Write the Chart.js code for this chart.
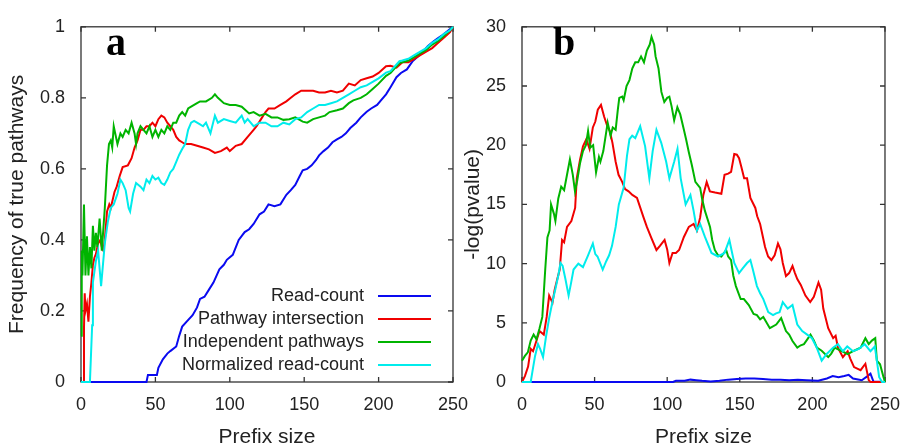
<!DOCTYPE html>
<html>
<head>
<meta charset="utf-8">
<title>Prefix size</title>
<script src="https://cdn.jsdelivr.net/npm/chart.js@4.4.1/dist/chart.umd.min.js"></script>
<style>
  html, body { margin: 0; padding: 0; background: #fff; }
  #wrap { position: relative; width: 912px; height: 446px; overflow: hidden; }
  #chartA { position: absolute; left: 0; top: 0; }
  #chartB { position: absolute; left: 456px; top: 0; }
</style>
</head>
<body>
<div id="wrap">
  <canvas id="chartA" width="490" height="446"></canvas>
  <canvas id="chartB" width="456" height="446"></canvas>
</div>
<script>
// Series names (legend order)
const seriesLabels = ['Read-count', 'Pathway intersection', 'Independent pathways', 'Normalized read-count'];

// Panel a: frequency of true pathways, [prefix size, value]
const readCountA = [[0,0],[44,0],[45,0.02],[51,0.02],[52,0.04],[55,0.064],[58,0.08],[60,0.087],[64,0.10],[66,0.13],[68,0.156],[71,0.17],[75,0.188],[78,0.21],[80,0.234],[83,0.24],[86,0.26],[89,0.28],[93,0.317],[96,0.33],[98,0.344],[102,0.358],[106,0.40],[110,0.422],[113,0.43],[116,0.445],[120,0.472],[123,0.48],[126,0.50],[130,0.495],[134,0.50],[138,0.527],[141,0.54],[144,0.555],[147,0.58],[149,0.596],[152,0.60],[155,0.61],[158,0.625],[160,0.638],[163,0.65],[166,0.66],[169,0.675],[172,0.683],[175,0.69],[178,0.70],[181,0.715],[185,0.73],[188,0.745],[192,0.761],[195,0.77],[199,0.78],[202,0.795],[205,0.81],[208,0.83],[212,0.858],[215,0.87],[219,0.88],[223,0.904],[226,0.915],[230,0.931],[233,0.945],[237,0.959],[240,0.968],[243,0.977],[247,0.99],[250,1.0]];
const pathwayA = [[1.5,0],[2,0.15],[2.5,0.25],[3,0.2],[4,0.22],[5,0.17],[6,0.24],[7,0.28],[8,0.33],[9,0.35],[10,0.36],[11.5,0.39],[13,0.40],[14,0.38],[15,0.37],[16,0.40],[17.5,0.48],[19,0.5],[20,0.49],[22.5,0.535],[24,0.55],[26,0.58],[28,0.605],[31.5,0.61],[34,0.63],[36,0.66],[38,0.68],[40,0.71],[42,0.71],[44,0.72],[46,0.72],[48,0.73],[50,0.72],[52,0.74],[54,0.75],[56,0.745],[58,0.73],[60,0.72],[62,0.71],[64,0.69],[66,0.68],[68,0.675],[70,0.67],[74,0.67],[78,0.665],[82,0.66],[86,0.655],[90,0.645],[94,0.65],[98,0.66],[100,0.65],[104,0.665],[108,0.67],[112,0.69],[116,0.71],[118,0.72],[121,0.74],[124,0.76],[126,0.77],[130,0.77],[134,0.78],[138,0.79],[141,0.80],[144,0.81],[148,0.82],[152,0.82],[156,0.82],[160,0.815],[164,0.815],[168,0.82],[172,0.815],[176,0.82],[178,0.83],[180,0.84],[184,0.835],[188,0.85],[192,0.855],[196,0.86],[200,0.87],[205,0.889],[208,0.89],[212,0.885],[216,0.90],[220,0.90],[224,0.91],[228,0.92],[232,0.93],[236,0.94],[240,0.955],[244,0.97],[248,0.985],[250,1.0]];
const independentA = [[0,0.13],[0.5,0.37],[1,0.3],[2,0.5],[3,0.3],[4,0.41],[5,0.3],[6,0.38],[7,0.32],[8,0.44],[9,0.37],[10,0.42],[11,0.38],[12.5,0.46],[14,0.37],[16,0.49],[17.5,0.61],[18.8,0.67],[20,0.68],[21,0.66],[22,0.72],[23,0.70],[24.5,0.67],[26.5,0.70],[28,0.69],[30,0.71],[32,0.70],[34,0.73],[36,0.70],[37,0.67],[38,0.70],[40,0.72],[42,0.71],[44,0.70],[46,0.72],[48,0.69],[50,0.71],[52,0.69],[54,0.71],[56,0.70],[58,0.72],[60,0.71],[62,0.73],[64,0.73],[66,0.75],[68,0.76],[70,0.75],[72,0.77],[74,0.775],[76,0.78],[78,0.785],[80,0.79],[84,0.79],[88,0.80],[90,0.81],[92,0.80],[96,0.785],[100,0.78],[104,0.78],[108,0.775],[113,0.756],[116,0.76],[120,0.75],[124,0.755],[128,0.745],[132,0.745],[136,0.738],[140,0.74],[144,0.745],[149,0.733],[152,0.73],[156,0.74],[160,0.745],[164,0.75],[167,0.76],[172,0.765],[176,0.77],[180,0.785],[183,0.793],[188,0.80],[192,0.81],[196,0.825],[200,0.84],[205,0.862],[208,0.87],[214,0.898],[216,0.90],[220,0.905],[224,0.915],[228,0.925],[232,0.935],[236,0.95],[240,0.96],[244,0.975],[248,0.99],[250,1.0]];
const normalizedA = [[0,0],[6,0],[7.5,0.16],[8,0.28],[10,0.34],[11.5,0.37],[13.5,0.27],[16,0.39],[18,0.45],[20,0.49],[22,0.50],[24.5,0.53],[26.5,0.57],[28,0.56],[30,0.54],[32,0.49],[33,0.48],[35,0.53],[37,0.56],[40,0.55],[42,0.54],[44,0.57],[46,0.56],[48,0.58],[50,0.57],[52,0.575],[54,0.56],[56,0.555],[58,0.57],[60,0.59],[62,0.60],[64,0.62],[66,0.64],[68,0.656],[70,0.67],[72,0.71],[74,0.73],[76,0.735],[78,0.73],[80,0.725],[82,0.72],[84,0.73],[87,0.70],[90,0.75],[92,0.73],[96,0.74],[100,0.735],[104,0.73],[108,0.75],[110,0.73],[112,0.74],[116,0.72],[120,0.73],[124,0.73],[128,0.72],[132,0.72],[136,0.73],[140,0.725],[144,0.74],[148,0.745],[152,0.76],[156,0.77],[160,0.78],[164,0.78],[168,0.785],[172,0.79],[176,0.80],[180,0.81],[184,0.82],[188,0.83],[192,0.835],[196,0.845],[200,0.855],[205,0.871],[208,0.875],[214,0.903],[216,0.905],[220,0.91],[224,0.92],[228,0.93],[232,0.94],[236,0.955],[240,0.965],[244,0.98],[248,0.99],[250,1.0]];

// Panel b: -log(pvalue), [prefix size, value]
const readCountB = [[0,0],[104,0],[106,0.1],[112,0.1],[116,0.2],[120,0.15],[124,0.1],[130,0.05],[136,0.1],[142,0.2],[148,0.25],[154,0.3],[160,0.3],[166,0.25],[172,0.2],[178,0.2],[184,0.15],[190,0.2],[196,0.15],[204,0.1],[210,0.3],[214,0.5],[218,0.4],[222,0.5],[225,0.6],[228,0.3],[234,0.15],[238,0.5],[240,0.7],[242,0.05],[250,0]];
const pathwayB = [[0,0],[2,0.5],[4.2,1.3],[6,2.8],[7.6,2.6],[10,3.5],[12,4.3],[15,4.0],[17,5.5],[18.7,7.3],[21,6.7],[22.5,7.8],[24.3,8.7],[26,9.5],[27.6,12.0],[29,11.8],[31,13.1],[34,13.6],[36.6,14.7],[37.7,17.2],[40,18.8],[42,19.9],[44.3,20.5],[46.5,19.7],[48.8,21.5],[50.5,22],[52.2,23.0],[54.4,23.4],[56.6,22.4],[58.8,21.6],[60.5,21.2],[62.3,20.2],[64.5,18.6],[66.5,17.5],[69,16.9],[71,16.3],[73.4,16.1],[76,15.8],[79.2,15.55],[83.7,13.9],[86,13.1],[89,12.2],[92.6,11.15],[95,11.5],[98.2,12.0],[100,11.2],[101.5,10.05],[103.7,10.9],[106,10.9],[108.2,11.15],[111.5,12.25],[114.9,13.1],[118.2,13.35],[120.5,12.8],[122.7,13.9],[124.9,15.8],[127.2,16.9],[129.4,16.1],[133,16.0],[137.3,15.9],[139.5,17.5],[142,17.6],[144,17.75],[146.2,19.25],[148,19.2],[149.5,18.9],[151,18.2],[153,17.2],[155,17.2],[157.3,15.55],[160.7,14.7],[162,14],[164,13.35],[167.4,11.4],[169.5,10.6],[171.8,10.3],[174,10.7],[176.3,11.7],[178,11.2],[179.6,10.05],[181.8,8.95],[184,9.2],[186.3,9.8],[188,9.2],[189.6,8.7],[192,8.2],[195.2,7.3],[198.5,6.75],[201,7.2],[204.2,8.4],[206,7.8],[207.5,6.2],[210.9,4.55],[214.3,3.7],[216,3.9],[217.6,2.9],[221,2.1],[224.3,2.6],[226,2.0],[228.7,1.26],[233.2,1.0],[236.5,1.54],[238.8,0.16],[240,0],[250,0]];
const independentB = [[0,1.8],[2,2.2],[4,2.5],[6,3.5],[8,4.0],[10,3.6],[12,4.5],[14,5.5],[16,9.5],[17.5,12.2],[19,12.8],[20,15],[22,14.2],[23,13.6],[25,15.5],[27,16.5],[29,16.2],[31,17.5],[33,18.8],[35,17.5],[36.5,16.1],[38,17],[40,18.5],[42,19.5],[44,20],[45.5,21.2],[47,19.8],[49,20],[51,17.7],[53,19],[54,18.6],[56,19.5],[59,21.9],[61,20.8],[62.5,21.5],[64.5,21.3],[66,23],[67,24],[69,24.1],[70,23.8],[72,25],[74,25.5],[76,26.5],[78,27],[80,27],[82,27.5],[84,27],[86,28],[88,28.5],[89.2,29.15],[91,28.5],[92,27.5],[94,26.5],[96,24.5],[98,23.65],[100,24],[101.5,24.1],[103,23.3],[104.8,22.1],[107,23.2],[109,22.6],[111.5,21.3],[113,20.5],[114.9,19.4],[117,18.3],[119.4,16.9],[122.7,16.4],[124,15.5],[126,14.45],[129.5,13.1],[131,12],[132.8,11.15],[135,10.7],[137.3,10.6],[140.6,11.15],[142,10.6],[144,10.3],[145.5,9],[147.3,8.1],[150.6,7.0],[152.8,7.0],[156.2,6.5],[159.5,5.75],[161.8,5.65],[164,5.3],[166.2,5.5],[170.7,4.55],[175.1,4.85],[178.5,5.4],[181.8,4.3],[184,4.0],[186.3,3.46],[189.6,2.9],[192,3.1],[194.2,3.2],[196.5,3.6],[198.7,4.0],[201,3.5],[203.1,2.9],[206.4,2.64],[210.9,2.1],[213,2.4],[215.3,2.9],[219.8,2.64],[224.3,2.35],[228.7,2.64],[233.2,2.9],[236.5,3.7],[238.8,3.2],[241,3.5],[243.3,3.7],[244.4,1.8],[246.6,1.5],[249,0.4],[250,0]];
const normalizedB = [[0,0],[6,0],[7.6,1.2],[9,2.2],[11,3.2],[12.5,2.8],[14.5,2.1],[16.5,3.8],[18.7,5.4],[21,6.8],[23,7.85],[25,9],[26.5,10.05],[28,9.8],[29.9,8.7],[32.1,7.3],[34,8.5],[35.5,9.5],[38.8,10.0],[42,9.7],[45.5,10.7],[48.8,11.7],[50.5,10.8],[52,10.6],[55.6,9.5],[58,10.2],[60,10.7],[62,11.5],[64.5,13.1],[66.7,15.0],[70,16.4],[72.3,19.1],[74,20.5],[75.9,20.8],[78,20.6],[81.4,21.6],[84.8,19.9],[87.7,17.2],[90,19.5],[92.6,21.3],[95.9,20.2],[99.3,18.6],[101.5,17.2],[104.8,18.6],[107.1,19.7],[109.3,17.2],[112.7,15.0],[116,15.8],[118.2,14.45],[120.5,12.8],[122.7,13.35],[126,12.25],[130.5,10.9],[135,10.6],[139.5,10.9],[142.8,12.0],[146.2,10.05],[149.5,9.2],[152,9.6],[155,10.05],[157.3,10.3],[159,9.5],[161.8,8.1],[164,7.5],[166.2,7.0],[169.6,5.9],[172.9,5.65],[175,5.8],[177.4,5.9],[179.6,6.75],[183,6.2],[186.3,6.5],[189.6,4.85],[193,4.3],[196.4,4.0],[199.7,3.7],[203,2.9],[206.4,1.8],[209.7,2.35],[214.2,2.9],[217.6,3.2],[221,2.6],[224,3.0],[228,2.6],[232,2.8],[236,3.2],[240,2.6],[243,3.0],[246,0.4],[248,0],[250,0]];

// Axis ranges
const xMax = 250, xStep = 50;
const yMaxA = 1, yStepA = 0.2;
const yMaxB = 30, yStepB = 5;

const seriesColors = ['#0a0af0', '#f00000', '#00b400', '#00ecec'];
const textColor = '#222';

Chart.defaults.font.family = '"Liberation Sans", Arial, sans-serif';
Chart.defaults.color = textColor;

function makeDatasets(seriesList) {
    return seriesList.map((pts, i) => ({
        label: seriesLabels[i],
        data: pts.map(p => ({ x: p[0], y: p[1] })),
        borderColor: seriesColors[i],
        borderWidth: 2,
        pointRadius: 0,
        tension: 0,
        clip: 3,
        order: seriesList.length - i   // last series drawn on top, like gnuplot
    }));
}

// gnuplot prints 1 rather than 1.0
function plainNumber(v) {
    return String(+v.toFixed(2));
}

function makeScales(yMax, yStep, yTitle, yWidth) {
    return {
        x: {
            type: 'linear', min: 0, max: xMax,
            ticks: { stepSize: xStep, padding: 12, font: { size: 18 }, maxRotation: 0 },
            grid: { display: false, drawTicks: false },
            border: { display: false },
            title: { display: true, text: 'Prefix size', font: { size: 21 }, padding: { top: 0, bottom: -4 } },
            afterFit: s => { s.height = 64; }
        },
        y: {
            type: 'linear', min: 0, max: yMax,
            ticks: { stepSize: yStep, padding: 16, font: { size: 18 }, callback: plainNumber },
            grid: { display: false, drawTicks: false },
            border: { display: false },
            title: { display: true, text: yTitle, font: { size: 21 }, padding: { top: 5, bottom: 0 } },
            afterFit: s => { s.width = yWidth; }
        }
    };
}

// Box round the plot with inward ticks on all four sides
const frameTicks = {
    id: 'frameTicks',
    beforeDatasetsDraw(chart) {
        const { ctx, chartArea: a, scales } = chart;
        ctx.save();
        ctx.strokeStyle = '#333';
        ctx.lineWidth = 1.3;
        ctx.strokeRect(a.left, a.top, a.right - a.left, a.bottom - a.top);
        ctx.beginPath();
        scales.x.ticks.forEach(t => {
            const px = scales.x.getPixelForValue(t.value);
            ctx.moveTo(px, a.bottom); ctx.lineTo(px, a.bottom - 5);
            ctx.moveTo(px, a.top); ctx.lineTo(px, a.top + 5);
        });
        scales.y.ticks.forEach(t => {
            const py = scales.y.getPixelForValue(t.value);
            ctx.moveTo(a.left, py); ctx.lineTo(a.left + 5, py);
            ctx.moveTo(a.right, py); ctx.lineTo(a.right - 5, py);
        });
        ctx.stroke();
        ctx.restore();
    }
};

// gnuplot style key: label right aligned, then a line sample
const gnuKey = {
    id: 'gnuKey',
    afterDatasetsDraw(chart, args, opts) {
        if (!opts.show) return;
        const ctx = chart.ctx;
        ctx.save();
        ctx.font = '18px "Liberation Sans", Arial, sans-serif';
        ctx.textAlign = 'right';
        ctx.textBaseline = 'middle';
        chart.data.datasets.forEach((ds, i) => {
            const y = opts.top + i * opts.rowGap;
            ctx.fillStyle = textColor;
            ctx.fillText(ds.label, opts.textRight, y);
            ctx.strokeStyle = ds.borderColor;
            ctx.lineWidth = 2;
            ctx.beginPath();
            ctx.moveTo(opts.lineStart, y);
            ctx.lineTo(opts.lineEnd, y);
            ctx.stroke();
        });
        ctx.restore();
    }
};

// Panel letter (a / b)
const panelLetter = {
    id: 'panelLetter',
    afterDraw(chart, args, opts) {
        const ctx = chart.ctx;
        ctx.save();
        ctx.font = 'bold 40px "Liberation Serif", serif';
        ctx.fillStyle = '#000';
        ctx.textAlign = 'left';
        ctx.textBaseline = 'alphabetic';
        ctx.fillText(opts.text, opts.x, opts.y);
        ctx.restore();
    }
};

function makeChart(canvasId, seriesList, yMax, yStep, yTitle, yWidth, padRight, letter, showKey) {
    return new Chart(document.getElementById(canvasId), {
        type: 'line',
        data: { datasets: makeDatasets(seriesList) },
        options: {
            responsive: false,
            animation: false,
            events: [],
            layout: { padding: { left: 0, right: padRight, top: 18, bottom: 0 } },
            scales: makeScales(yMax, yStep, yTitle, yWidth),
            plugins: {
                legend: { display: false },
                tooltip: { enabled: false },
                gnuKey: { show: showKey, top: 296, rowGap: 23, textRight: 364, lineStart: 378, lineEnd: 431 },
                panelLetter: letter
            }
        },
        plugins: [frameTicks, gnuKey, panelLetter]
    });
}

makeChart('chartA', [readCountA, pathwayA, independentA, normalizedA],
    yMaxA, yStepA, 'Frequency of true pathways', 81, 37, { text: 'a', x: 106, y: 55 }, true);
makeChart('chartB', [readCountB, pathwayB, independentB, normalizedB],
    yMaxB, yStepB, '-log(pvalue)', 66, 17, { text: 'b', x: 97, y: 55 }, false);
</script>
</body>
</html>
